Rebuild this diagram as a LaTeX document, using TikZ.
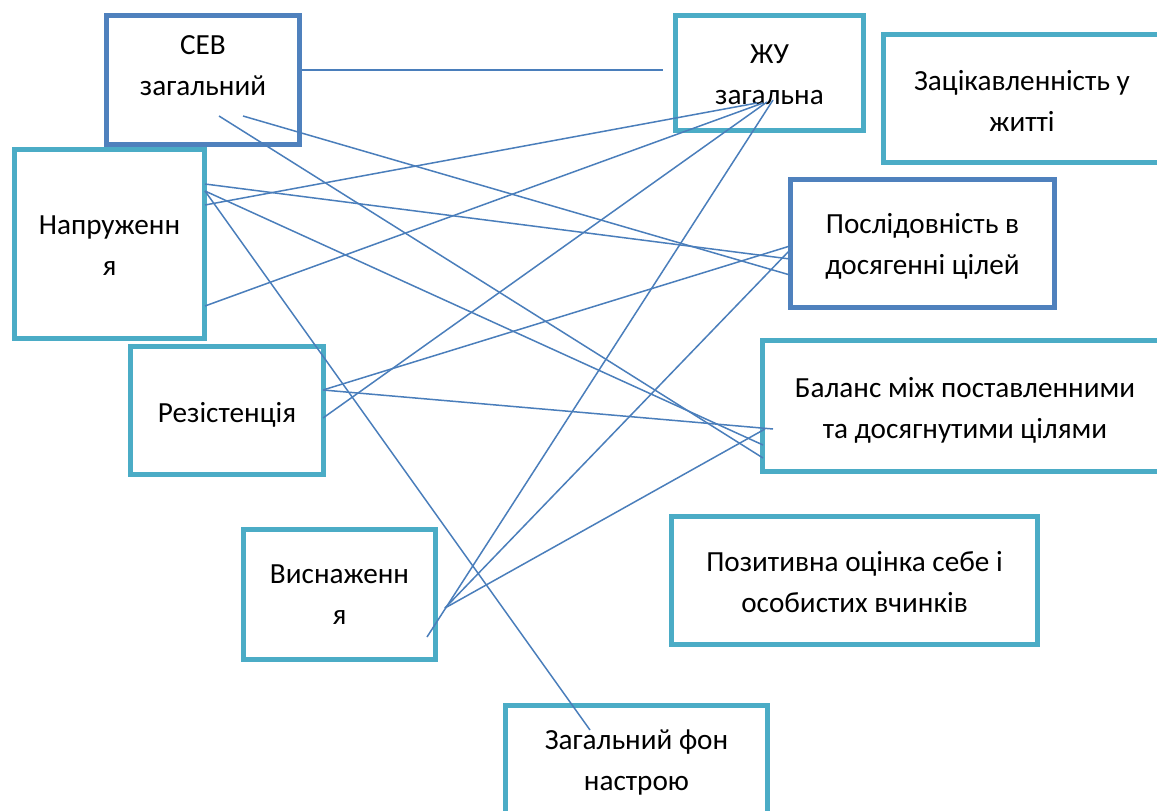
\documentclass[tikz,border=0pt]{standalone}
\usepackage{fontspec}
\setmainfont{Carlito}
\definecolor{darkbox}{HTML}{4F81BD}
\definecolor{tealbox}{HTML}{4BACC6}
\definecolor{conn}{HTML}{4A7EBB}
\newcommand{\twoln}[2]{\vtop{\halign{\hfil##\hfil\cr #1\cr #2\cr}}}
\tikzset{
  boxA/.style={draw=tealbox, line width=5pt, inner sep=0pt, rectangle},
  boxB/.style={boxA, draw=darkbox},
  lbl/.style={anchor=base, inner sep=0pt, font=\fontsize{29.2}{41}\selectfont},
  link/.style={draw=conn, line width=1.5pt},
}
\begin{document}
\begin{tikzpicture}[x=1pt,y=-1pt]
\useasboundingbox (0,0) rectangle (1157,811);
\fill[white] (0,0) rectangle (1157,811);
\clip (0,0) rectangle (1157,811);

% boxes
\node[boxA, minimum width=190pt, minimum height=189pt] (napr) at (109.5,244) {};
\node[boxB, minimum width=193pt, minimum height=129pt] (sev) at (203,80) {};
\node[boxA, minimum width=188pt, minimum height=115pt] (zhu) at (769.5,73) {};
\node[boxA, minimum width=289pt, minimum height=128pt] (zac) at (1028,98.5) {};
\node[boxB, minimum width=264pt, minimum height=128pt] (posl) at (922.5,243.5) {};
\node[boxA, minimum width=193pt, minimum height=128pt] (rez) at (227,410.5) {};
\node[boxA, minimum width=410pt, minimum height=131pt] (bal) at (967.5,406) {};
\node[boxA, minimum width=192pt, minimum height=130pt] (visn) at (339.5,594.5) {};
\node[boxA, minimum width=366pt, minimum height=128pt] (poz) at (854.5,580.5) {};
\node[boxA, minimum width=262pt, minimum height=132pt] (fon) at (636.5,771.5) {};

% texts
\node[lbl] (sevT) at (203,54) {\twoln{СЕВ}{загальний}};
\node[lbl] (zhuT) at (769.5,63) {\twoln{ЖУ}{загальна}};
\node[lbl] (zacT) at (1022,90) {\twoln{Зацікавленність у}{житті}};
\node[lbl] (poslT) at (922.5,233) {\twoln{Послідовність в}{досягенні цілей}};
\node[lbl] (naprT) at (109.5,234) {\twoln{Напруженн}{я}};
\node[lbl] (rezT) at (227,422) {Резістенція};
\node[lbl] (balT) at (965,397) {\twoln{Баланс між поставленними}{та досягнутими цілями}};
\node[lbl] (visnT) at (339.5,583) {\twoln{Виснаженн}{я}};
\node[lbl] (pozT) at (854.5,571) {\twoln{Позитивна оцінка себе і}{особистих вчинків}};
\node[lbl] (fonT) at (636.5,749) {\twoln{Загальний фон}{настрою}};

% connector end points
\coordinate (sevR) at (302,70);
\coordinate (zhuL) at (663,70);
\coordinate (sevA) at (243,116);
\coordinate (sevB) at (219,116);
\coordinate (naprA) at (205,184);
\coordinate (naprB) at (205,191);
\coordinate (naprC) at (205,205);
\coordinate (naprD) at (205,306);
\coordinate (rezA) at (323,390);
\coordinate (rezB) at (323,418);
\coordinate (visnA) at (445,608);
\coordinate (visnB) at (427,637);
\coordinate (poslA) at (790,246);
\coordinate (poslB) at (790,250);
\coordinate (poslC) at (790,259);
\coordinate (poslD) at (790,275);
\coordinate (balA) at (773,429);
\coordinate (balB) at (765,429);
\coordinate (balC) at (763,445);
\coordinate (balD) at (763,458);
\coordinate (zhuA) at (757,103);
\coordinate (zhuB) at (763,103);
\coordinate (zhuC) at (767,102);
\coordinate (zhuD) at (773,100);
\coordinate (fonA) at (590,730);

% connectors
\draw[link] (sevR) -- (zhuL);
\draw[link] (sevA) -- (poslD);
\draw[link] (sevB) -- (balD);
\draw[link] (naprA) -- (poslC);
\draw[link] (naprB) -- (balC);
\draw[link] (naprB) -- (fonA);
\draw[link] (naprC) -- (zhuA);
\draw[link] (naprD) -- (zhuB);
\draw[link] (rezA) -- (poslA);
\draw[link] (rezA) -- (balA);
\draw[link] (rezB) -- (zhuC);
\draw[link] (visnA) -- (poslB);
\draw[link] (visnA) -- (balB);
\draw[link] (visnB) -- (zhuD);
\end{tikzpicture}
\end{document}
